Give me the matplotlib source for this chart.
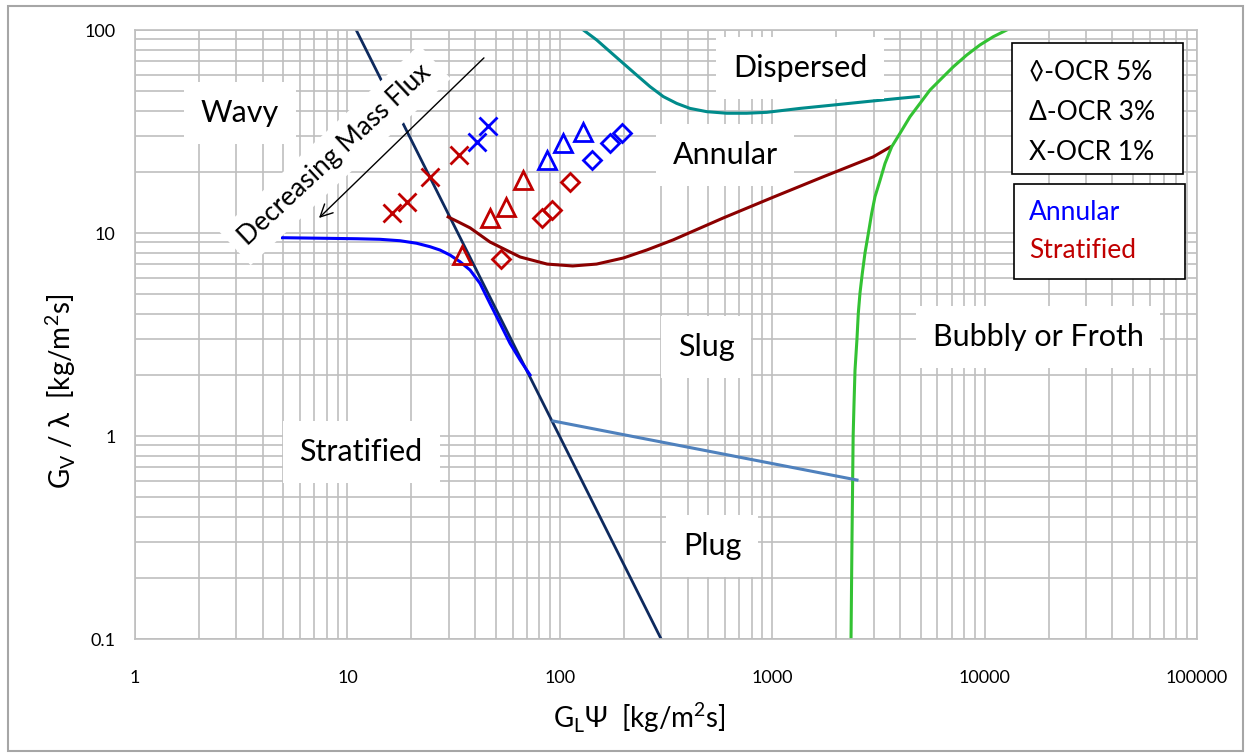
import matplotlib.pyplot as plt
import numpy as np
from matplotlib.patches import Rectangle

plt.rcParams['font.family'] = ['Lato', 'DejaVu Sans']

strat_x = [11.0, 300]
strat_y = [100, 0.1]
wavy_x = [4.95, 7.70, 11.06, 14.23, 17.69, 21.2, 24.5, 27.3, 30.4, 33.9, 37.8, 42.1,
          46.9, 52.3, 58.3, 65.0, 72.4]
wavy_y = [9.48, 9.42, 9.37, 9.31, 9.16, 8.90, 8.56, 8.24, 7.79, 7.22, 6.57, 5.65,
          4.50, 3.59, 2.86, 2.37, 2.0]
annular_x = [29.8, 33.5, 37.8, 46.9, 65.0, 87.1, 115, 149, 199, 257, 341, 587, 1009,
             1734, 2985, 3588]
annular_y = [12.0, 11.3, 10.6, 9.03, 7.62, 7.03, 6.88, 7.03, 7.53, 8.25, 9.24, 11.85,
             15.0, 18.9, 23.7, 26.5]
dispersed_x = [129.1, 149.2, 172.3, 199, 230, 266, 307, 355, 410, 492, 611, 758, 942,
               1352, 1940, 2786, 3998, 4875]
dispersed_y = [100, 89.3, 78.2, 68.5, 60.0, 52.6, 47.0, 43.5, 41.1, 39.6, 38.9, 38.9,
               39.3, 41.1, 42.7, 44.4, 46.1, 47.0]
bubbly_x = [2350, 2375, 2405, 2428, 2454, 2505, 2543, 2590, 2656, 2735, 2836, 2940, 3048,
            3220, 3397, 3653, 3998, 4455, 4965, 5530, 6280, 7125, 8240, 9510, 10990, 12706]
bubbly_y = [0.1, 0.31, 1.0, 1.45, 2.11, 2.97, 4.02, 5.06, 6.33, 7.98, 9.96, 12.5, 15.1,
            18.2, 22.0, 26.6, 31.0, 37.4, 43.5, 50.6, 57.8, 65.9, 75.3, 84.4, 92.7, 100]
plug_x = [92.9, 2507]
plug_y = [1.186, 0.607]

# points de mesure : X = OCR 1%, triangle = OCR 3%, losange = OCR 5%
ocr1_strat_x = [16.2, 19.1, 24.5, 33.5]
ocr1_strat_y = [12.6, 14.2, 18.9, 24.2]
ocr1_ann_x = [40.7, 45.9]
ocr1_ann_y = [28.1, 33.7]
ocr3_strat_x = [34.6, 46.9, 55.8, 67.1]
ocr3_strat_y = [7.8, 11.9, 13.4, 18.2]
ocr3_ann_x = [87.1, 103.5, 128.6]
ocr3_ann_y = [22.9, 27.8, 31.5]
ocr5_strat_x = [52.9, 82.5, 91.9, 111.7]
ocr5_strat_y = [7.45, 11.9, 13.0, 17.8]
ocr5_ann_x = [141.8, 172.3, 196.3]
ocr5_ann_y = [22.9, 27.8, 31.1]

x_ticks = [1, 10, 100, 1000, 10000, 100000]
x_labels = ['1', '10', '100', '1000', '10000', '100000']
y_ticks = [0.1, 1, 10, 100]
y_labels = ['0.1', '1', '10', '100']

fig = plt.figure(figsize=(12.51, 7.53), dpi=100)
ax = fig.add_axes([135/1251, 1-639/753, (1197-135)/1251, (639-30)/753])
ax.set_xscale('log')
ax.set_yscale('log')
ax.set_xlim(1, 100000)
ax.set_ylim(0.1, 100)
ax.grid(which='both', color='#BFBFBF', lw=1.2, zorder=0)
ax.set_axisbelow(True)
for s in ax.spines.values():
    s.set_color('#BFBFBF')
    s.set_linewidth(1.2)
ax.set_xticks(x_ticks, x_labels)
ax.set_yticks(y_ticks, y_labels)
ax.tick_params(which='both', length=0)
ax.tick_params(axis='x', pad=22, labelsize=13)
ax.tick_params(axis='y', pad=14, labelsize=13)

ax.plot(strat_x, strat_y, color='#0E2A5E', lw=2, zorder=2)
ax.plot(wavy_x, wavy_y, color='#0000FF', lw=2.2, zorder=2)
ax.plot(annular_x, annular_y, color='#8B0000', lw=2.2, zorder=2)
ax.plot(dispersed_x, dispersed_y, color='#008B8B', lw=2.2, zorder=2)
ax.plot(bubbly_x, bubbly_y, color='#33C233', lw=2.2, zorder=2)
ax.plot(plug_x, plug_y, color='#4F81BD', lw=2.2, zorder=2)

red = '#C00000'
blue = '#0000FF'
mk = dict(ls='none', mfc='none', mew=2, zorder=6)
ax.plot(ocr1_strat_x, ocr1_strat_y, marker='x', ms=13, color=red, **mk)
ax.plot(ocr1_ann_x, ocr1_ann_y, marker='x', ms=13, color=blue, **mk)
ax.plot(ocr3_strat_x, ocr3_strat_y, marker='^', ms=13, color=red, **mk)
ax.plot(ocr3_ann_x, ocr3_ann_y, marker='^', ms=13, color=blue, **mk)
ax.plot(ocr5_strat_x, ocr5_strat_y, marker='D', ms=9, color=red, **mk)
ax.plot(ocr5_ann_x, ocr5_ann_y, marker='D', ms=9, color=blue, **mk)

# etiquettes des regimes
box = dict(boxstyle='square,pad=0.55', fc='white', ec='none')
lbl = dict(fontsize=22, ha='center', va='center', bbox=box, zorder=3)
ax.text(3.12, 39.0, 'Wavy', **lbl)
ax.text(1352, 65.0, 'Dispersed', **lbl)
ax.text(600, 24.2, 'Annular', **lbl)
ax.text(488, 2.74, 'Slug', **lbl)
ax.text(17830, 3.07, 'Bubbly or Froth', **lbl)
ax.text(11.6, 0.834, 'Stratified', **lbl)
ax.text(521, 0.287, 'Plug', **lbl)

ax.text(8.74, 24.2, 'Decreasing Mass Flux', fontsize=19, rotation=43,
        rotation_mode='anchor', ha='center', va='center', zorder=4,
        bbox=dict(boxstyle='square,pad=0.4', fc='white', ec='none'))
ax.annotate('', xy=(7.19, 11.6), xytext=(44.9, 74.5),
            arrowprops=dict(arrowstyle='->', color='black', lw=1,
                            mutation_scale=22), zorder=5)

ax.set_xlabel('G$_\\mathregular{L}$Ψ  [kg/m$^\\mathregular{2}$s]', fontsize=20)
ax.xaxis.set_label_coords(0.475, -(700-639)/609)
ax.set_ylabel('G$_\\mathregular{V}$ / λ  [kg/m$^\\mathregular{2}$s]', fontsize=20)
ax.yaxis.set_label_coords(-(135-78)/1062, 0.5 - (392-335)/609)

# encadres de legende
W, H = 1251, 753
fig.patches.append(Rectangle((1012/W, 1-174/H), 171/W, 131/H, transform=fig.transFigure,
                             fc='white', ec='black', lw=1.2, zorder=5))
fig.patches.append(Rectangle((1014/W, 1-279/H), 171/W, 95/H, transform=fig.transFigure,
                             fc='white', ec='black', lw=1.2, zorder=5))
for yy, t in [(72, '◊-OCR 5%'), (112, 'Δ-OCR 3%'), (152, 'X-OCR 1%')]:
    fig.text(1029/W, 1-yy/H, t, fontsize=19, va='center', ha='left', zorder=6)
fig.text(1029/W, 1-213/H, 'Annular', fontsize=19, color=blue, va='center', zorder=6)
fig.text(1029/W, 1-251/H, 'Stratified', fontsize=19, color=red, va='center', zorder=6)

# cadre gris autour de la figure
fig.patches.append(Rectangle((8/W, 1-751/H), 1235/W, 745/H, transform=fig.transFigure,
                             fc='none', ec='#A6A6A6', lw=1.5))

fig.savefig('out.png', dpi=100)
